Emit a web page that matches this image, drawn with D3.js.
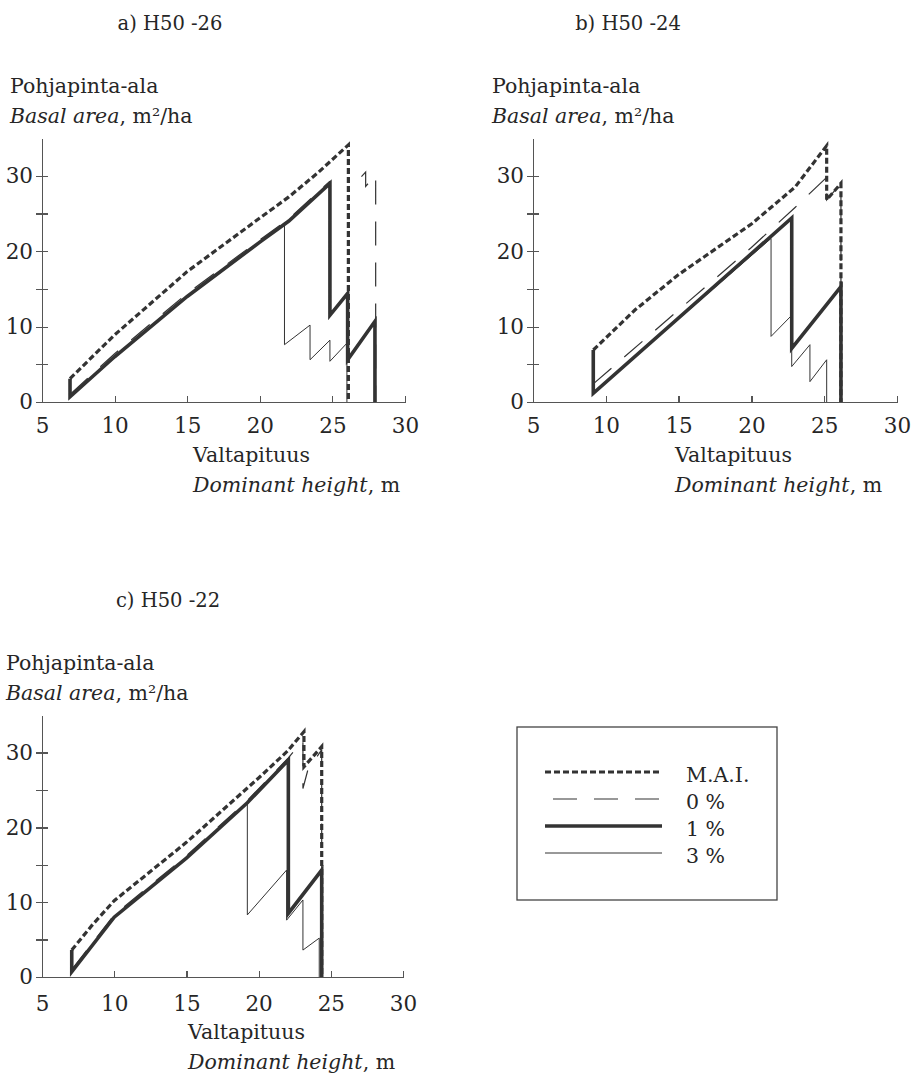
<!DOCTYPE html>
<meta charset="utf-8">
<script src="https://d3js.org/d3.v7.min.js"></script>
<style>
body { margin: 0; background: #fff; }
text { font-family: "DejaVu Serif", serif; fill: #262626; }
.lab { font-size: 20.5px; }
.ttl { font-size: 19.5px; }
.tick text { font-size: 21.5px; }
.axis path, .axis line { stroke: #555; stroke-width: 1.2; fill: none; shape-rendering: crispEdges; }
.series { fill: none; stroke: #333; stroke-linejoin: miter; }
</style>
<body>
<script>
// tick values shared by all panels
var xTicks = [5, 10, 15, 20, 25, 30];
var yTicks = [0, 5, 10, 15, 20, 25, 30];

// a) H50 -26  (dominant height m, basal area m2/ha); null = break in the line
var a_mai = [[6.93,3.1],[10,8.9],[15,17.3],[20,24.4],[22,27.2],[24,30.4],[26.1,34.1],[26.1,0]];
var a_p0  = [[6.93,1.0],[10,6.4],[15,14.4],[20,21.5],[22,24.3],[24.83,29.3],null,[27.0,29.9],[27.29,30.5],[27.29,28.6],[27.98,30.1],[27.98,0]];
var a_p1  = [[6.93,3.1],[6.93,0.7],[10,6.0],[15,14.0],[20,21.2],[22,24.0],[24.83,29.0],[24.83,11.5],[26.05,14.4],[26.05,5.6],[27.93,10.7],[27.93,0]];
var a_p3  = [[6.93,0.7],[10,6.0],[15,14.0],[20,21.2],[21.7,23.5],[21.7,7.6],[23.46,10.2],[23.46,5.6],[24.83,8.2],[24.83,5.4],[26.0,7.8],[26.0,0]];

// b) H50 -24
var b_mai = [[9.14,6.9],[12,12.2],[15,16.9],[20,23.6],[23,28.5],[25.17,34.0],[25.17,26.8],[26.15,29.0],[26.15,0]];
var b_p0  = [[9.14,2.4],[15,12.2],[20,20.5],[23,25.8],[25.17,29.8],[25.17,26.8],[26.15,29.0],[26.15,0]];
var b_p1  = [[9.14,6.9],[9.14,1.15],[22.77,24.4],[22.77,7.1],[26.15,15.3],[26.15,0]];
var b_p3  = [[9.14,1.15],[21.35,21.7],[21.35,8.7],[22.77,11.5],[22.77,4.7],[24.02,7.6],[24.02,2.7],[25.17,5.6],[25.17,0]];

// c) H50 -22
var c_mai = [[7.06,3.6],[8.5,7.0],[10,10.2],[15,18.0],[20,26.6],[22,30.2],[23.14,32.8],[23.14,28.1],[24.37,30.8],[24.37,0]];
var c_p0  = [[7.06,1.0],[10,8.3],[15,16.2],[19.22,23.6],[22.06,29.3],[23.07,31.6],[23.07,25.2],[23.4,27.6],[24.37,30.4],[24.37,0]];
var c_p1  = [[7.06,3.6],[7.06,0.7],[10,8.0],[15,15.9],[19.22,23.3],[22.06,29.0],[22.06,8.5],[24.37,14.3],[24.37,0]];
var c_p3  = [[7.06,0.7],[10,8.0],[15,15.9],[19.22,23.3],[19.22,8.3],[21.94,14.3],[21.94,7.6],[23.07,10.3],[23.07,3.6],[24.2,5.2],[24.2,0]];

var seriesNames = ["M.A.I.", "0 %", "1 %", "3 %"];
var styles = {
  "M.A.I.": {w: 3.2, dash: "6,3"},
  "0 %":    {w: 1.2, dash: "24,17"},
  "1 %":    {w: 3.6, dash: null},
  "3 %":    {w: 1.0, dash: null}
};

var svg = d3.select("body").append("svg")
  .attr("width", 915).attr("height", 1076);
svg.append("rect").attr("width", 915).attr("height", 1076).attr("fill", "#fff");

var panels = [
  {title: "a) H50 -26", tx: 170, ty: 30, lx: 10, ly: 93, x0: 42, x1: 405, y0: 402, ppu: 7.54, xlx: 193, xly: 462, tly: 433,
   data: {"M.A.I.": a_mai, "0 %": a_p0, "1 %": a_p1, "3 %": a_p3}},
  {title: "b) H50 -24", tx: 628, ty: 30, lx: 492, ly: 93, x0: 533, x1: 897, y0: 402, ppu: 7.54, xlx: 675, xly: 462, tly: 433,
   data: {"M.A.I.": b_mai, "0 %": b_p0, "1 %": b_p1, "3 %": b_p3}},
  {title: "c) H50 -22", tx: 168, ty: 607, lx: 6, ly: 670, x0: 42, x1: 403, y0: 977, ppu: 7.48, xlx: 188, xly: 1039, tly: 1011,
   data: {"M.A.I.": c_mai, "0 %": c_p0, "1 %": c_p1, "3 %": c_p3}}
];

panels.forEach(function(p) {
  var x = d3.scaleLinear().domain([5, 30]).range([p.x0, p.x1]);
  var y = d3.scaleLinear().domain([0, 35]).range([p.y0, p.y0 - 35 * p.ppu]);
  var g = svg.append("g");

  g.append("text").attr("class", "ttl").attr("x", p.tx).attr("y", p.ty)
    .attr("text-anchor", "middle").text(p.title);

  g.append("text").attr("class", "lab").attr("x", p.lx).attr("y", p.ly).text("Pohjapinta-ala");
  var t2 = g.append("text").attr("class", "lab").attr("x", p.lx).attr("y", p.ly + 30);
  t2.append("tspan").style("font-style", "italic").text("Basal area");
  t2.append("tspan").text(",  m²/ha");

  var ya = g.append("g").attr("class", "axis")
    .attr("transform", "translate(" + p.x0 + ",0)")
    .call(d3.axisLeft(y).tickValues(yTicks).tickSizeInner(6).tickSizeOuter(0).tickPadding(3)
      .tickFormat(function(d) { return d % 10 === 0 ? d : ""; }));
  ya.selectAll(".tick line").attr("x1", 6);

  var xa = g.append("g").attr("class", "axis")
    .attr("transform", "translate(0," + p.y0 + ")")
    .call(d3.axisBottom(x).tickValues(xTicks).tickSizeInner(-6).tickSizeOuter(0));
  xa.selectAll(".tick text").attr("y", p.tly - p.y0).attr("dy", 0);

  g.append("text").attr("class", "lab").attr("x", p.xlx).attr("y", p.xly).text("Valtapituus");
  var t3 = g.append("text").attr("class", "lab").attr("x", p.xlx).attr("y", p.xly + 30);
  t3.append("tspan").style("font-style", "italic").text("Dominant height");
  t3.append("tspan").text(",  m");

  var line = d3.line()
    .defined(function(d) { return d !== null; })
    .x(function(d) { return x(d[0]); })
    .y(function(d) { return y(d[1]); });
  ["3 %", "0 %", "1 %", "M.A.I."].forEach(function(name) {
    var s = styles[name];
    g.append("path").attr("class", "series")
      .attr("d", line(p.data[name]))
      .attr("stroke-width", s.w)
      .attr("stroke-dasharray", s.dash);
  });
});

// legend
var lg = svg.append("g");
lg.append("rect").attr("x", 517).attr("y", 727).attr("width", 260).attr("height", 173)
  .attr("fill", "none").attr("stroke", "#444").attr("stroke-width", 1.3);
var ly = d3.scalePoint().domain(seriesNames).range([772, 853]);
seriesNames.forEach(function(name) {
  var s = styles[name];
  lg.append("line").attr("x1", name === "0 %" ? 553 : 545).attr("x2", 662)
    .attr("y1", ly(name)).attr("y2", ly(name))
    .attr("stroke", "#333").attr("stroke-width", s.w).attr("stroke-dasharray", s.dash);
  lg.append("text").attr("class", "lab").attr("x", 686).attr("y", ly(name) + 10).text(name);
});
</script>
</body>
</html>
